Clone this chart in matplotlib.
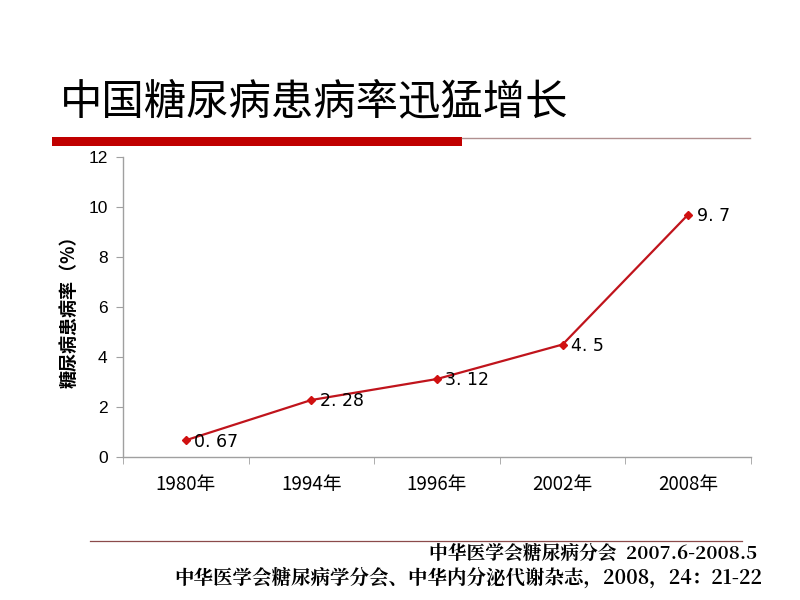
import matplotlib
matplotlib.use("Agg")
import matplotlib.pyplot as plt
from matplotlib.lines import Line2D
from matplotlib.patches import Rectangle

plt.rcParams['font.family'] = ['Noto Sans CJK SC', 'DejaVu Sans']

categories = ["1980年", "1994年", "1996年", "2002年", "2008年"]
values = [0.67, 2.28, 3.12, 4.5, 9.7]
value_labels = ["0. 67", "2. 28", "3. 12", "4. 5", "9. 7"]
yticks = [0, 2, 4, 6, 8, 10, 12]

title = "中国糖尿病患病率迅猛增长"
ylabel = "糖尿病患病率（%）"
footer1 = "中华医学会糖尿病分会  2007.6-2008.5"
footer2 = "中华医学会糖尿病学分会、中华内分泌代谢杂志，2008，24：21-22"

fig = plt.figure(figsize=(8, 6), dpi=100)
W, H = 800, 600

def fx(px):
    return px / W

def fy(py):
    return 1 - py / H

# Title
fig.text(fx(60), fy(102), title, fontsize=30.5, va='center', ha='left', color='black')

# Red bar and thin line under title
fig.add_artist(Rectangle((fx(52), fy(146)), fx(462) - fx(52), fy(137) - fy(146),
                         transform=fig.transFigure, color='#C00000', lw=0))
fig.add_artist(Line2D([fx(462), fx(750)], [fy(137.5), fy(137.5)],
                      transform=fig.transFigure, color='#B09090', lw=1))

# Bottom line
fig.add_artist(Line2D([fx(90), fx(742)], [fy(541), fy(541)],
                      transform=fig.transFigure, color='#8B4A4A', lw=0.9))

# Footers
ffam = ['Noto Serif CJK SC', 'Noto Sans CJK SC', 'DejaVu Serif']
fig.text(fx(757), fy(554), footer1, fontsize=13.5, fontweight='bold', ha='right', va='center',
         family=ffam)
fig.text(fx(762), fy(578), footer2, fontsize=14, fontweight='bold', ha='right', va='center',
         family=ffam)

# Axes
ax = fig.add_axes([fx(123), fy(457), fx(751) - fx(123), fy(157) - fy(457)])
x = list(range(len(categories)))
ax.plot(x, values, color='#C0141C', lw=1.6, marker='D', markersize=4,
        markerfacecolor='#D01010', markeredgecolor='#D01010')
for xi, v, lab in zip(x, values, value_labels):
    ax.annotate(lab, (xi, v), xytext=(6, -1), textcoords='offset points',
                ha='left', va='center', fontsize=12.5, family=['DejaVu Sans'])

ax.set_xlim(-0.5, len(categories) - 0.5)
ax.set_ylim(0, 12)
ax.set_yticks(yticks)
ax.set_yticklabels([str(t) for t in yticks], fontsize=12.5, family=['Liberation Sans'])
ax.set_xticks(x)
ax.set_xticklabels(categories, fontsize=13.5)
ax.set_xticks([i - 0.5 for i in range(len(categories) + 1)], minor=True)
ax.tick_params(axis='x', which='major', length=0, pad=12)
ax.tick_params(axis='x', which='minor', length=5, color='#A0A0A0', direction='out')
ax.tick_params(axis='y', length=5, color='#A0A0A0', direction='out', pad=6)

for s in ['top', 'right']:
    ax.spines[s].set_visible(False)
for s in ['left', 'bottom']:
    ax.spines[s].set_color('#A0A0A0')
    ax.spines[s].set_linewidth(1)

ax.set_ylabel(ylabel, fontsize=13, fontweight='bold', labelpad=7)

fig.savefig("out.png", dpi=100)
